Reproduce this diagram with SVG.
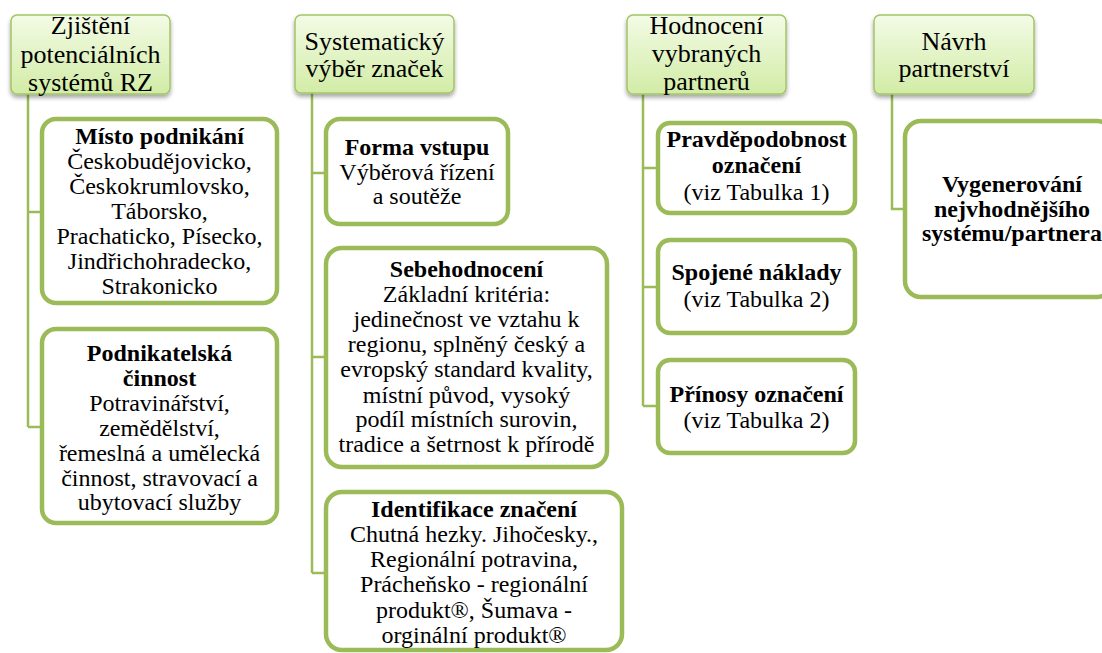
<svg xmlns="http://www.w3.org/2000/svg" width="1102" height="653" viewBox="0 0 1102 653" font-family="'Liberation Serif', 'DejaVu Serif', serif">
  <defs>
    <linearGradient id="hg" x1="0" y1="0" x2="0" y2="1">
      <stop offset="0" stop-color="#f3fbe6"/>
      <stop offset="1" stop-color="#d2eca6"/>
    </linearGradient>
    <filter id="sh" x="-10%" y="-10%" width="130%" height="140%">
      <feDropShadow dx="0" dy="3" stdDeviation="2.2" flood-color="#000" flood-opacity="0.35"/>
    </filter>
  </defs>
  <style>
    text { font-family: 'Liberation Serif', 'DejaVu Serif', serif; fill: #000; text-anchor: middle; }
    .ht { font-size: 26px; }
    .ct { font-size: 24px; }
    .b { font-weight: bold; }
    .hdr { fill: url(#hg); stroke: #a3c565; stroke-width: 1.5; filter: url(#sh); }
    .box { fill: #fff; stroke: #9bbb59; stroke-width: 4.5; }
    .con { fill: none; stroke: #9bbb59; stroke-width: 2.5; }
  </style>
  <rect width="1102" height="653" fill="#fff"/>

  <g id="connectors">
    <path class="con" d="M28 94 V427 M28 212 H42 M28 427 H42"/>
    <path class="con" d="M312 93 V573 M312 173 H326 M312 357 H326 M312 573 H326"/>
    <path class="con" d="M643 94 V406 M643 168 H658 M643 287 H658 M643 406 H658"/>
    <path class="con" d="M892 94 V209 H905"/>
  </g>

  <g id="h1">
    <rect class="hdr" x="11" y="15" width="159" height="79" rx="6"/>
    <text class="ht" x="90.5" y="34">Zjištění</text>
    <text class="ht" x="90.5" y="63">potenciálních</text>
    <text class="ht" x="90.5" y="91">systémů RZ</text>
  </g>
  <g id="h2">
    <rect class="hdr" x="295" y="15" width="159" height="78" rx="6"/>
    <text class="ht" x="374.5" y="50">Systematický</text>
    <text class="ht" x="374.5" y="77">výběr značek</text>
  </g>
  <g id="h3">
    <rect class="hdr" x="627" y="15" width="159" height="79" rx="6"/>
    <text class="ht" x="706.5" y="34">Hodnocení</text>
    <text class="ht" x="706.5" y="62">vybraných</text>
    <text class="ht" x="706.5" y="90">partnerů</text>
  </g>
  <g id="h4">
    <rect class="hdr" x="874" y="15" width="160" height="79" rx="6"/>
    <text class="ht" x="954" y="50">Návrh</text>
    <text class="ht" x="954" y="77">partnerství</text>
  </g>

  <g id="c1a">
    <rect class="box" x="42" y="119" width="235" height="184" rx="14"/>
    <text class="ct b" x="159.5" y="144">Místo podnikání</text>
    <text class="ct" x="159.5" y="169">Českobudějovicko,</text>
    <text class="ct" x="159.5" y="194">Českokrumlovsko,</text>
    <text class="ct" x="159.5" y="219">Táborsko,</text>
    <text class="ct" x="159.5" y="244">Prachaticko, Písecko,</text>
    <text class="ct" x="159.5" y="269">Jindřichohradecko,</text>
    <text class="ct" x="159.5" y="294">Strakonicko</text>
  </g>
  <g id="c1b">
    <rect class="box" x="42" y="329" width="235" height="194" rx="14"/>
    <text class="ct b" x="159.5" y="361">Podnikatelská</text>
    <text class="ct b" x="159.5" y="386">činnost</text>
    <text class="ct" x="159.5" y="411">Potravinářství,</text>
    <text class="ct" x="159.5" y="436">zemědělství,</text>
    <text class="ct" x="159.5" y="461">řemeslná a umělecká</text>
    <text class="ct" x="159.5" y="486">činnost, stravovací a</text>
    <text class="ct" x="159.5" y="510">ubytovací služby</text>
  </g>

  <g id="c2a">
    <rect class="box" x="326" y="119" width="182" height="105" rx="14"/>
    <text class="ct b" x="417" y="155">Forma vstupu</text>
    <text class="ct" x="417" y="180">Výběrová řízení</text>
    <text class="ct" x="417" y="204">a soutěže</text>
  </g>
  <g id="c2b">
    <rect class="box" x="326" y="248" width="281" height="219" rx="16"/>
    <text class="ct b" x="466.5" y="277">Sebehodnocení</text>
    <text class="ct" x="466.5" y="302">Základní kritéria:</text>
    <text class="ct" x="466.5" y="327">jedinečnost ve vztahu k</text>
    <text class="ct" x="466.5" y="352">regionu, splněný český a</text>
    <text class="ct" x="466.5" y="377">evropský standard kvality,</text>
    <text class="ct" x="466.5" y="403">místní původ, vysoký</text>
    <text class="ct" x="466.5" y="427">podíl místních surovin,</text>
    <text class="ct" x="466.5" y="452">tradice a šetrnost k přírodě</text>
  </g>
  <g id="c2c">
    <rect class="box" x="326" y="492" width="296" height="158" rx="16"/>
    <text class="ct b" x="474" y="517">Identifikace značení</text>
    <text class="ct" x="474" y="542">Chutná hezky. Jihočesky.,</text>
    <text class="ct" x="474" y="567">Regionální potravina,</text>
    <text class="ct" x="474" y="592">Prácheňsko - regionální</text>
    <text class="ct" x="474" y="618">produkt®, Šumava -</text>
    <text class="ct" x="474" y="643">orginální produkt®</text>
  </g>

  <g id="c3a">
    <rect class="box" x="658" y="123" width="197" height="90" rx="12"/>
    <text class="ct b" x="756.5" y="147">Pravděpodobnost</text>
    <text class="ct b" x="756.5" y="173">označení</text>
    <text class="ct" x="756.5" y="200">(viz Tabulka 1)</text>
  </g>
  <g id="c3b">
    <rect class="box" x="658" y="240" width="197" height="93" rx="12"/>
    <text class="ct b" x="756.5" y="280">Spojené náklady</text>
    <text class="ct" x="756.5" y="307">(viz Tabulka 2)</text>
  </g>
  <g id="c3c">
    <rect class="box" x="658" y="360" width="197" height="93" rx="12"/>
    <text class="ct b" x="756.5" y="402">Přínosy označení</text>
    <text class="ct" x="756.5" y="428">(viz Tabulka 2)</text>
  </g>

  <g id="c4">
    <rect class="box" x="905" y="121" width="208" height="176" rx="16"/>
    <text class="ct b" x="1012" y="192">Vygenerování</text>
    <text class="ct b" x="1012" y="217">nejvhodnějšího</text>
    <text class="ct b" x="1012" y="241">systému/partnera</text>
  </g>
</svg>
